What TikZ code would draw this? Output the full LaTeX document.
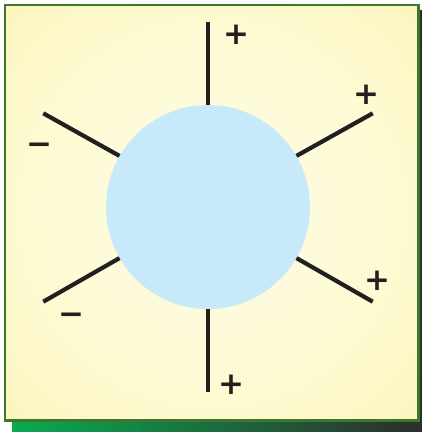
\documentclass[tikz,border=0pt]{standalone}
\usepackage{fontspec}
\newfontfamily\signfont{DejaVu Sans Bold}
\definecolor{bgA}{RGB}{255,253,232}
\definecolor{bgB}{RGB}{254,250,210}
\definecolor{bgC}{RGB}{247,241,168}
\definecolor{bgD}{RGB}{228,224,82}
\definecolor{frameGreen}{RGB}{62,118,44}
\definecolor{shadowL}{RGB}{10,170,80}
\definecolor{shadowR}{RGB}{45,45,45}
\definecolor{ballBlue}{RGB}{200,233,249}
\definecolor{lineInk}{RGB}{35,31,32}
\pgfdeclareradialshading{bgshade}{\pgfpoint{0bp}{0bp}}{color(0bp)=(bgA); color(22bp)=(bgB); color(50bp)=(bgC); color(71bp)=(bgD)}
\tikzset{
  ray/.style={draw=lineInk, line width=4.2pt},
  sign/.style={inner sep=0pt, outer sep=0pt, text=lineInk, font=\signfont\fontsize{31}{31}\selectfont},
}
\begin{document}
\begin{tikzpicture}[x=1pt,y=-1pt]
\useasboundingbox (0,0) rectangle (422,432);
% shadow
\shade[left color=shadowL, right color=shadowR] (12,10) rectangle (422,432);
% panel
\path[shading=bgshade, draw=frameGreen, line width=2.5pt] (5,5) rectangle (418.5,420.5);
% ball
\node[circle, fill=ballBlue, minimum size=204pt, inner sep=0pt] (c) at (208,207) {};
% ray ends
\coordinate (t) at (208,22);
\coordinate (b) at (208,392);
\coordinate (ur) at (372.7,113.3);
\coordinate (lr) at (372.7,301.7);
\coordinate (ul) at (43.3,113.3);
\coordinate (ll) at (43.3,301.7);
\draw[ray] (c.90) -- (t);
\draw[ray] (c.270) -- (b);
\draw[ray] (c.30) -- (ur);
\draw[ray] (c.-30) -- (lr);
\draw[ray] (c.150) -- (ul);
\draw[ray] (c.210) -- (ll);
% signs
\node[sign] (p1) at (236.7,35) {+};
\node[sign] (p2) at (366.7,94.7) {+};
\node[sign] (p3) at (377,281) {+};
\node[sign] (p4) at (231,385) {+};
\node[sign] (m1) at (39.6,149) {−};
\node[sign] (m2) at (71,318.5) {−};
\end{tikzpicture}
\end{document}
